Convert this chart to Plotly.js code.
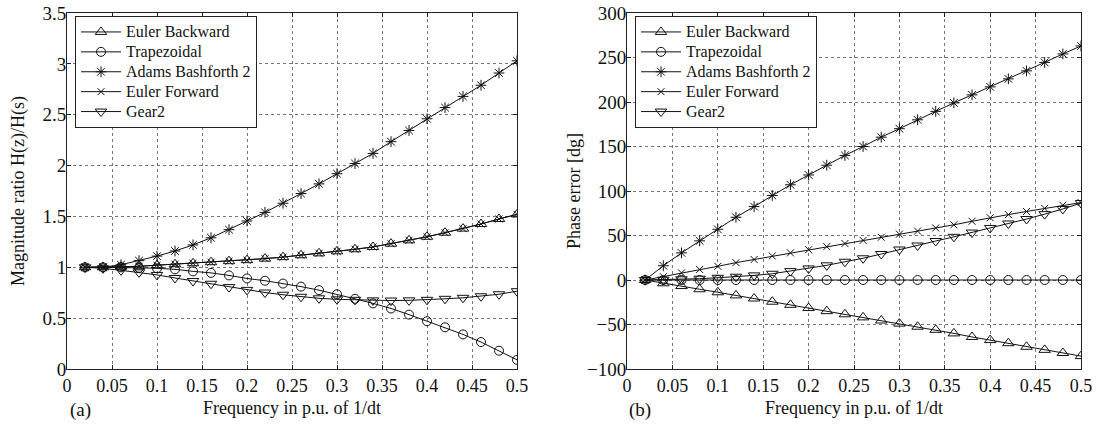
<!DOCTYPE html>
<html>
<head>
<meta charset="utf-8">
<script src="https://cdn.plot.ly/plotly-3.0.1.min.js"></script>
<style>html,body{margin:0;padding:0;background:#fff;}#chart{width:1105px;height:428px;}</style>
</head>
<body>
<div id="chart"></div>
<script>
// Frequency in p.u. of 1/dt
const freq = [0.02,0.04,0.06,0.08,0.10,0.12,0.14,0.16,0.18,0.20,0.22,0.24,0.26,0.28,0.30,0.32,0.34,0.36,0.38,0.40,0.42,0.44,0.46,0.48,0.50];

// (a) Magnitude ratio H(z)/H(s)
const magEulerBackward = [1.00,1.00,1.005,1.01,1.02,1.03,1.04,1.05,1.06,1.07,1.085,1.10,1.118,1.137,1.157,1.177,1.20,1.232,1.265,1.30,1.34,1.38,1.425,1.475,1.52];
const magTrapezoidal   = [1.00,1.00,1.00,0.995,0.99,0.98,0.96,0.945,0.92,0.89,0.868,0.84,0.81,0.775,0.735,0.69,0.645,0.595,0.535,0.47,0.41,0.34,0.265,0.18,0.09];
const magAdamsB2       = [1.00,1.00,1.025,1.065,1.11,1.16,1.22,1.29,1.37,1.455,1.54,1.63,1.725,1.82,1.92,2.02,2.12,2.235,2.345,2.46,2.57,2.68,2.79,2.91,3.03];
const magEulerForward  = [1.00,1.00,1.005,1.01,1.02,1.03,1.04,1.05,1.06,1.07,1.085,1.10,1.118,1.137,1.157,1.177,1.20,1.232,1.265,1.30,1.34,1.38,1.425,1.475,1.52];
const magGear2         = [1.00,0.99,0.97,0.95,0.925,0.895,0.865,0.838,0.805,0.778,0.752,0.73,0.71,0.695,0.685,0.68,0.675,0.673,0.675,0.68,0.69,0.70,0.715,0.735,0.765];

// (b) Phase error [dg]
const phEulerBackward = [0,-3.7,-6.8,-10.4,-13.8,-17.3,-20.8,-24.4,-27.9,-31.5,-35,-38.5,-42,-45.5,-49,-52.5,-56,-60,-64,-67.5,-71,-75,-78.5,-82,-85.5];
const phTrapezoidal   = [0,0,0,0,0,0,0,0,0,0,0,0,0,0,0,0,0,0,0,0,0,0,0,0,0];
const phAdamsB2       = [0,16,30.5,44,57,70.5,82.5,95,107,118,129,140,150,160.5,170,180,189.5,199,208,217,226,235,244.5,254,263];
const phEulerForward  = [0,3.7,8,11.8,15.4,19.5,23,27,30.5,34,37.5,41,44.5,48,51.5,55,58.5,62,66,70,73.5,77,80.5,84,87];
const phGear2         = [0,0.3,0.8,1.5,2.5,3.7,5.2,7,10,13,16.5,20.5,24.4,29.2,34.3,38.8,43.8,48.5,53.3,58.5,63.5,68.5,74,79.8,86.5];

const names = ["Euler Backward","Trapezoidal","Adams Bashforth 2","Euler Forward","Gear2"];
const symbols = ["triangle-up-open","circle-open","asterisk-open","x-thin-open","triangle-down-open"];
const sizes = [10,9,9,7,10];

const magSeries = [magEulerBackward, magTrapezoidal, magAdamsB2, magEulerForward, magGear2];
const phSeries  = [phEulerBackward, phTrapezoidal, phAdamsB2, phEulerForward, phGear2];

const FONT = "Liberation Serif";
const legName = n => '<span style="font-size:16px">' + n + '</span>';
const traces = [];
magSeries.forEach((ys, i) => {
  traces.push({x: freq, y: ys, xaxis:'x', yaxis:'y', name: legName(names[i]), type:'scatter', mode:'lines+markers',
    line:{color:'#111', width:1}, marker:{symbol:symbols[i], size:sizes[i], color:'#111', line:{width:1, color:'#111'}},
    legend:'legend'});
});
phSeries.forEach((ys, i) => {
  traces.push({x: freq, y: ys, xaxis:'x2', yaxis:'y2', name: legName(names[i]), type:'scatter', mode:'lines+markers',
    line:{color:'#111', width:1}, marker:{symbol:symbols[i], size:sizes[i], color:'#111', line:{width:1, color:'#111'}},
    legend:'legend2'});
});

const axBase = {
  showline:true, linecolor:'#222', linewidth:1, mirror:'ticks', ticks:'inside', ticklen:4, tickcolor:'#222',
  showgrid:true, gridcolor:'#777', griddash:'3px,3px', gridwidth:1, zeroline:false,
  tickfont:{family:FONT, size:18, color:'#111'}, automargin:false
};
const yTick = {family:FONT, size:19, color:'#111'};
const W = 1105, H = 428;
const legendFont = {family:FONT, size:13, color:'#111'};
const layout = {
  width: W, height: H, margin:{l:0, r:0, t:0, b:0}, paper_bgcolor:'#fff', plot_bgcolor:'#fff',
  font:{family:FONT, color:'#111'},
  xaxis: Object.assign({}, axBase, {domain:[67/W, 517/W], range:[0,0.5], dtick:0.05, tick0:0, anchor:'y',
    title:{text:'Frequency in p.u. of 1/dt', font:{family:FONT, size:18}, standoff:6}}),
  yaxis: Object.assign({}, axBase, {domain:[1-369/H, 1-13/H], range:[0,3.5], dtick:0.5, tick0:0, anchor:'x',
    tickfont:yTick, ticklabelstandoff:-4,
    title:{text:'Magnitude ratio H(z)/H(s)', font:{family:FONT, size:18}, standoff:13}}),
  xaxis2: Object.assign({}, axBase, {domain:[627/W, 1081/W], range:[0,0.5], dtick:0.05, tick0:0, anchor:'y2',
    title:{text:'Frequency in p.u. of 1/dt', font:{family:FONT, size:18}, standoff:6}}),
  yaxis2: Object.assign({}, axBase, {domain:[1-369/H, 1-13/H], range:[-100,300], dtick:50, tick0:0, anchor:'x2',
    tickfont:yTick, ticklabelstandoff:-4,
    title:{text:'Phase error [dg]', font:{family:FONT, size:18}, standoff:1}}),
  legend: {x:75/W, y:1-16/H, xanchor:'left', yanchor:'top', bgcolor:'#fff', bordercolor:'#222', borderwidth:1,
    font:legendFont, tracegroupgap:0, itemwidth:40},
  legend2: {x:635/W, y:1-16/H, xanchor:'left', yanchor:'top', bgcolor:'#fff', bordercolor:'#222', borderwidth:1,
    font:legendFont, tracegroupgap:0, itemwidth:40},
  annotations: [
    {text:'(a)', xref:'paper', yref:'paper', x:80/W, y:1-410/H, xanchor:'center', yanchor:'middle', showarrow:false, font:{family:FONT, size:19, color:'#111'}},
    {text:'(b)', xref:'paper', yref:'paper', x:640/W, y:1-410/H, xanchor:'center', yanchor:'middle', showarrow:false, font:{family:FONT, size:19, color:'#111'}}
  ],
  showlegend:true
};
Plotly.newPlot('chart', traces, layout, {displayModeBar:false, staticPlot:true});
</script>
</body>
</html>
